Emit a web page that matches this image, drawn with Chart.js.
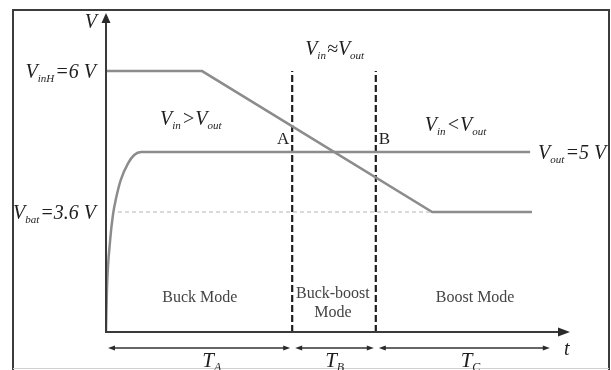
<!DOCTYPE html>
<html>
<head>
<meta charset="utf-8">
<script src="https://cdn.jsdelivr.net/npm/chart.js@4/dist/chart.umd.min.js"></script>
<style>
  html, body { margin: 0; padding: 0; background: #fff; }
  #wrap { width: 611px; height: 370px; position: relative; }
</style>
</head>
<body>
<div id="wrap"><canvas id="c" width="611" height="370"></canvas></div>
<script>
// Voltage levels (V)
const V_IN_HIGH = 6;
const V_OUT = 5;
const V_BAT = 3.6;

// Input voltage vs. time (arbitrary time units)
const VIN_T = [0, 2.08, 7.06, 9.22];
const VIN_V = [V_IN_HIGH, V_IN_HIGH, V_BAT, V_BAT];

// Output voltage start-up and regulation
const VOUT_T = [0, 0.02, 0.09, 0.15, 0.22, 0.32, 0.48, 0.61, 0.76, 9.18];
const VOUT_V = [0, 1.26, 2.76, 3.51, 3.93, 4.35, 4.74, 4.93, V_OUT, V_OUT];

// Battery reference level (dashed)
const VBAT_T = [0.26, 7.06];
const VBAT_V = [V_BAT, V_BAT];

// Mode boundaries A and B, and end of the T_C interval
const BOUND_T = [4.03, 5.84];
const T_END = 9.65;

// Interval labels
const INTERVALS = ['A', 'B', 'C'];
const MODES = [['Buck Mode'], ['Buck-boost', 'Mode'], ['Boost Mode']];

// Non-uniform (schematic) voltage axis: volts -> fraction of axis height
const Y_KNOTS = [0, 3.6, 5, 6, 7];
const Y_FRACS = [0, 0.3785, 0.568, 0.823, 1];

function piece(v, xs, ys) {
  if (v <= xs[0]) return ys[0] + (v - xs[0]) * (ys[1] - ys[0]) / (xs[1] - xs[0]);
  for (let i = 1; i < xs.length; i++) {
    if (v <= xs[i]) {
      return ys[i - 1] + (v - xs[i - 1]) * (ys[i] - ys[i - 1]) / (xs[i] - xs[i - 1]);
    }
  }
  const n = xs.length - 1;
  return ys[n] + (v - xs[n]) * (ys[n] - ys[n - 1]) / (xs[n] - xs[n - 1]);
}

class SchematicScale extends Chart.LinearScale {
  getPixelForValue(value) {
    if (value === null || value === undefined) return NaN;
    return this.getPixelForDecimal(piece(value, Y_KNOTS, Y_FRACS));
  }
  getValueForPixel(pixel) {
    return piece(this.getDecimalForPixel(pixel), Y_FRACS, Y_KNOTS);
  }
}
SchematicScale.id = 'schematic';
SchematicScale.defaults = Chart.LinearScale.defaults;
Chart.register(SchematicScale);

const pts = (ts, vs) => ts.map((t, i) => ({ x: t, y: vs[i] }));

const SERIF = '"Liberation Serif", "Times New Roman", serif';
const INK = '#1e1e1e';
const LINE_GREY = '#8c8c8c';

// Draw text with subscripts: parts = [[text, isSub], ...]
function drawRich(ctx, x, y, parts, align, size) {
  const main = `italic ${size}px ${SERIF}`;
  const sub = `italic ${Math.round(size * 0.55)}px ${SERIF}`;
  let w = 0;
  parts.forEach(([t, s]) => { ctx.font = s ? sub : main; w += ctx.measureText(t).width + (s ? 1 : 0); });
  let cx = align === 'right' ? x - w : align === 'center' ? x - w / 2 : x;
  ctx.textAlign = 'left';
  ctx.textBaseline = 'alphabetic';
  parts.forEach(([t, s]) => {
    ctx.font = s ? sub : main;
    ctx.fillText(t, cx, y + (s ? size * 0.2 : 0));
    cx += ctx.measureText(t).width + (s ? 1 : 0);
  });
}

function arrowHead(ctx, x, y, dir, len, half) {
  // dir: 'up' | 'right' | 'left'
  ctx.beginPath();
  if (dir === 'up') { ctx.moveTo(x, y); ctx.lineTo(x - half, y + len); ctx.lineTo(x + half, y + len); }
  if (dir === 'right') { ctx.moveTo(x, y); ctx.lineTo(x - len, y - half); ctx.lineTo(x - len, y + half); }
  if (dir === 'left') { ctx.moveTo(x, y); ctx.lineTo(x + len, y - half); ctx.lineTo(x + len, y + half); }
  ctx.closePath();
  ctx.fill();
}

const decor = {
  id: 'decor',
  afterDraw(chart) {
    const { ctx, chartArea: a, scales: { x: xs, y: ys } } = chart;
    ctx.save();

    // outer frame
    ctx.strokeStyle = '#3c3c3c';
    ctx.lineWidth = 2;
    ctx.beginPath();
    ctx.moveTo(13, 372); ctx.lineTo(13, 10); ctx.lineTo(609, 10); ctx.lineTo(609, 372);
    ctx.stroke();
    ctx.strokeStyle = '#d0d0d0';
    ctx.lineWidth = 1;
    ctx.beginPath(); ctx.moveTo(13, 368.5); ctx.lineTo(609, 368.5); ctx.stroke();

    // axes
    ctx.strokeStyle = '#3a3a3a';
    ctx.fillStyle = '#2a2a2a';
    ctx.lineWidth = 2;
    ctx.beginPath();
    ctx.moveTo(a.left, a.top + 4); ctx.lineTo(a.left, a.bottom); ctx.lineTo(a.right - 6, a.bottom);
    ctx.stroke();
    arrowHead(ctx, a.left, a.top - 2, 'up', 10, 4.5);
    arrowHead(ctx, a.right + 2, a.bottom, 'right', 12, 4.5);

    // axis names
    ctx.fillStyle = INK;
    drawRich(ctx, a.left - 9, 28, [['V', false]], 'right', 20);
    drawRich(ctx, a.right - 4, a.bottom + 23, [['t', false]], 'left', 20);

    // level labels
    drawRich(ctx, a.left - 10, ys.getPixelForValue(V_IN_HIGH) + 7, [['V', false], ['inH', true], ['=6 V', false]], 'right', 20);
    drawRich(ctx, a.left - 10, ys.getPixelForValue(V_BAT) + 7, [['V', false], ['bat', true], ['=3.6 V', false]], 'right', 20);
    drawRich(ctx, xs.getPixelForValue(VOUT_T[VOUT_T.length - 1]) + 8, ys.getPixelForValue(V_OUT) + 7,
      [['V', false], ['out', true], ['=5 V', false]], 'left', 20);

    // region conditions
    drawRich(ctx, xs.getPixelForValue(1.17), ys.getPixelForValue(5.42) + 7, [['V', false], ['in', true], ['>V', false], ['out', true]], 'left', 20);
    drawRich(ctx, xs.getPixelForValue(4.96), ys.getPixelForValue(6.41) + 7, [['V', false], ['in', true], ['\u2248V', false], ['out', true]], 'center', 20);
    drawRich(ctx, xs.getPixelForValue(6.9), ys.getPixelForValue(5.35) + 7, [['V', false], ['in', true], ['<V', false], ['out', true]], 'left', 20);

    // boundary letters
    ctx.font = `17px ${SERIF}`;
    ctx.textBaseline = 'alphabetic';
    ctx.textAlign = 'right';
    ctx.fillText('A', xs.getPixelForValue(BOUND_T[0]) - 3, ys.getPixelForValue(5.17) + 6);
    ctx.textAlign = 'left';
    ctx.fillText('B', xs.getPixelForValue(BOUND_T[1]) + 3, ys.getPixelForValue(5.17) + 6);

    // mode names
    const edges = [0, BOUND_T[0], BOUND_T[1], T_END];
    const modeCx = [2.03, 4.91, 7.99];
    ctx.fillStyle = '#444';
    ctx.font = `16px ${SERIF}`;
    ctx.textAlign = 'center';
    MODES.forEach((lines, i) => {
      const cx = xs.getPixelForValue(modeCx[i]);
      const y0 = lines.length === 1 ? a.bottom - 30 : a.bottom - 34;
      lines.forEach((ln, j) => ctx.fillText(ln, cx, y0 + j * 19));
    });

    // time intervals
    const ay = a.bottom + 16;
    ctx.strokeStyle = '#333';
    ctx.fillStyle = '#2a2a2a';
    ctx.lineWidth = 1.5;
    const labelT = [2.3, 4.96, 7.9];
    for (let i = 0; i < 3; i++) {
      const x0 = xs.getPixelForValue(edges[i]) + (i === 0 ? 2 : 3);
      const x1 = xs.getPixelForValue(edges[i + 1]) - 2;
      ctx.beginPath(); ctx.moveTo(x0 + 4, ay); ctx.lineTo(x1 - 4, ay); ctx.stroke();
      arrowHead(ctx, x0, ay, 'left', 7, 2.5);
      arrowHead(ctx, x1, ay, 'right', 7, 2.5);
      ctx.fillStyle = INK;
      drawRich(ctx, xs.getPixelForValue(labelT[i]), a.bottom + 35, [['T', false], [INTERVALS[i], true]], 'center', 21);
      ctx.fillStyle = '#2a2a2a';
    }

    ctx.restore();
  }
};

new Chart(document.getElementById('c'), {
  type: 'line',
  data: {
    datasets: [
      { label: 'Vbat', data: pts(VBAT_T, VBAT_V), borderColor: '#b4b4b4', borderWidth: 1.2, borderDash: [4, 3], pointRadius: 0 },
      { label: 'Vin', data: pts(VIN_T, VIN_V), borderColor: LINE_GREY, borderWidth: 2.5, pointRadius: 0, tension: 0 },
      { label: 'Vout', data: pts(VOUT_T, VOUT_V), borderColor: LINE_GREY, borderWidth: 2.5, pointRadius: 0, cubicInterpolationMode: 'monotone' },
      { label: 'A', data: pts([BOUND_T[0], BOUND_T[0]], [0, V_IN_HIGH]), borderColor: '#1e1e1e', borderWidth: 2.2, borderDash: [7, 3], pointRadius: 0 },
      { label: 'B', data: pts([BOUND_T[1], BOUND_T[1]], [0, V_IN_HIGH]), borderColor: '#1e1e1e', borderWidth: 2.2, borderDash: [7, 3], pointRadius: 0 }
    ]
  },
  options: {
    responsive: false,
    animation: false,
    layout: { padding: { left: 106, right: 43, top: 15, bottom: 38 } },
    plugins: { legend: { display: false }, tooltip: { enabled: false }, title: { display: false } },
    scales: {
      x: { type: 'linear', min: 0, max: 10, display: false },
      y: { type: 'schematic', min: 0, max: 7, display: false }
    }
  },
  plugins: [decor]
});
</script>
</body>
</html>
